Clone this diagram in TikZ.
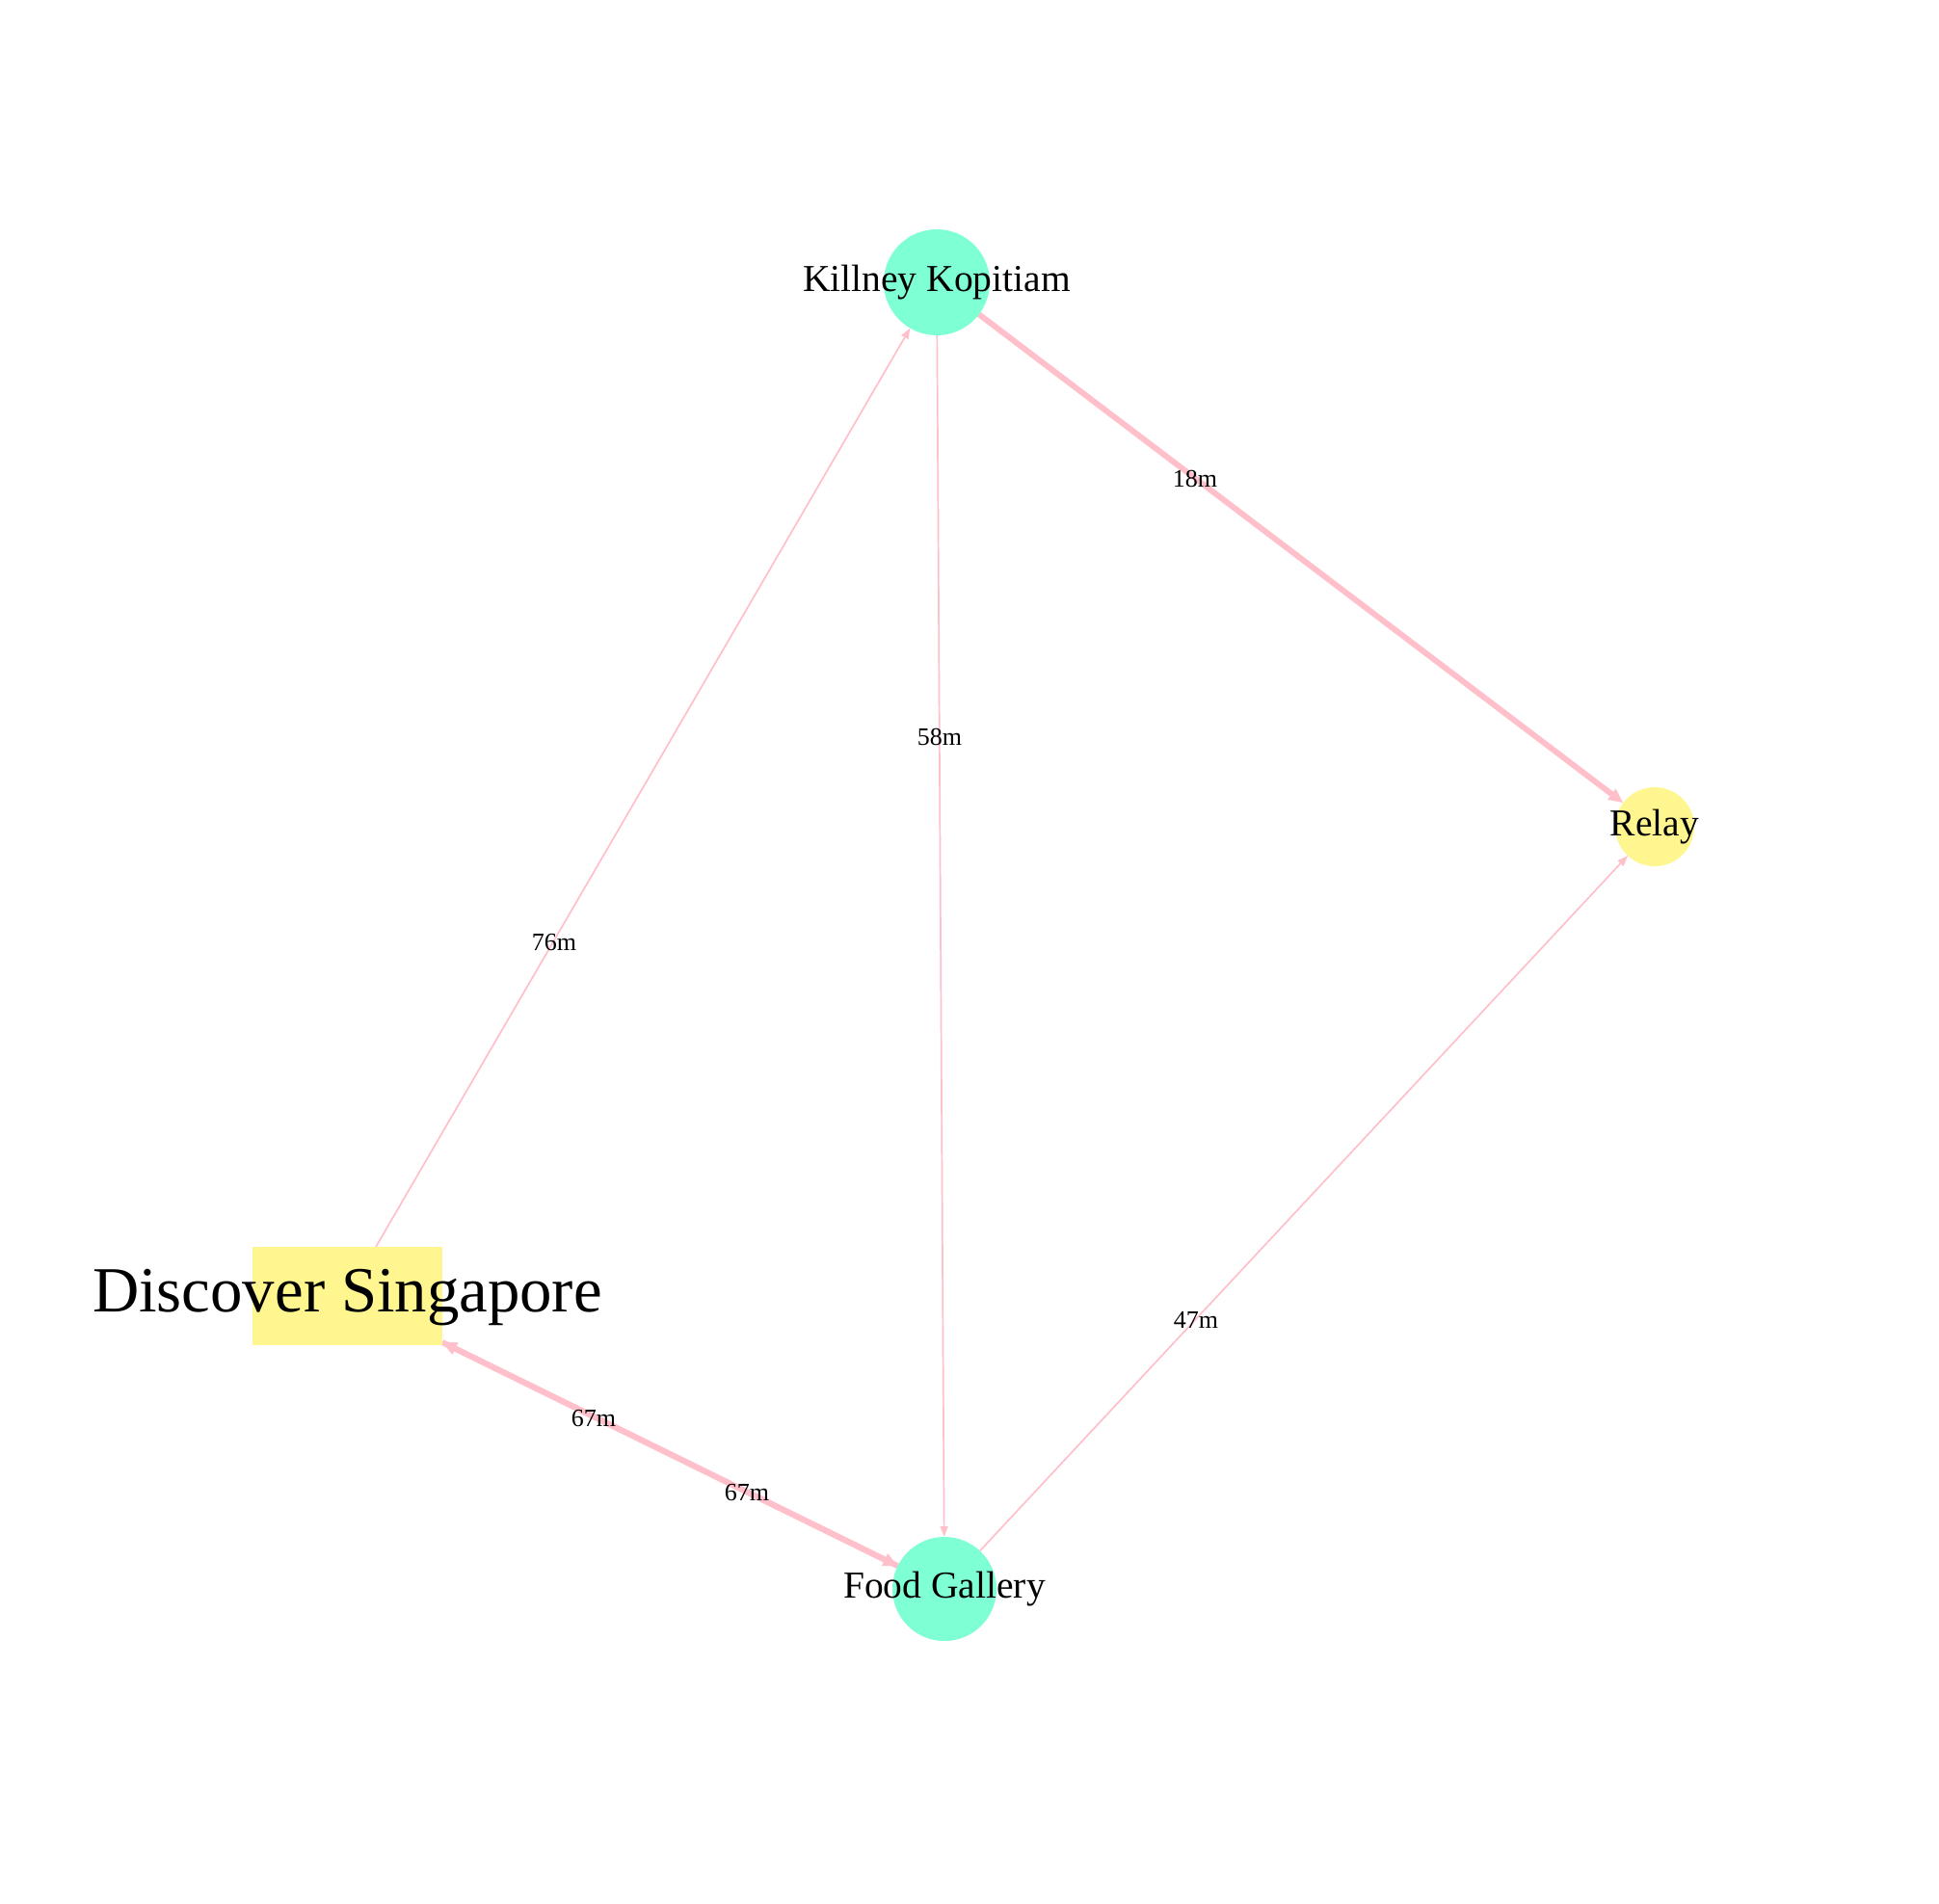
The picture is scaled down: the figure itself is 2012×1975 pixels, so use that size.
\documentclass[tikz,border=0pt]{standalone}
\usepackage{fontspec}
\setmainfont{Liberation Serif}
\usetikzlibrary{arrows.meta}
\pgfdeclarelayer{bg}
\pgfsetlayers{bg,main}
\definecolor{edgepink}{RGB}{255,192,203}
\definecolor{aquanode}{RGB}{127,255,212}
\definecolor{yellownode}{RGB}{255,246,143}
\begin{document}
\begin{tikzpicture}[x=1pt,y=-1pt,
  roundplace/.style={circle, fill=#1, draw=none, inner sep=0pt, outer sep=0pt},
  boxplace/.style={rectangle, fill=yellownode, draw=none, inner sep=0pt, outer sep=0pt, minimum width=197pt, minimum height=102pt},
  namelbl/.style={font=\fontsize{39.5}{47}\selectfont, text height=27.6pt, text depth=7.9pt, inner sep=0pt},
  biglbl/.style={font=\fontsize{66.8}{80}\selectfont, text height=46.8pt, text depth=13.4pt, inner sep=0pt},
  edgelbl/.style={font=\fontsize{26}{31}\selectfont, inner sep=0pt},
  lightedge/.style={draw=edgepink, line width=1.7pt, -{Triangle[length=11pt,width=8pt]}},
  heavyedge/.style={draw=edgepink, line width=6pt, -{Triangle[length=15pt,width=13pt]}}
]
\useasboundingbox (0,0) rectangle (2012,1975);

\node[roundplace=aquanode, minimum size=110pt, label={[namelbl]center:Killney Kopitiam}] (kk) at (972,293) {};
\node[roundplace=aquanode, minimum size=108pt, label={[namelbl]center:Food Gallery}] (fg) at (980,1649) {};
\node[roundplace=yellownode, minimum size=82pt, label={[namelbl]center:Relay}] (re) at (1717,858) {};
\node[boxplace, label={[biglbl]center:Discover Singapore}] (ds) at (360.5,1345) {};

\begin{pgfonlayer}{bg}
\fill[white] (0,0) rectangle (2012,1975);
\draw[lightedge] (ds) -- (kk);
\draw[lightedge] (kk) -- (fg);
\draw[heavyedge] (kk) -- (re);
\draw[lightedge] (fg) -- (re);
\draw[heavyedge] (ds) -- (fg);
\draw[heavyedge] (fg) -- (ds);
\end{pgfonlayer}

\node[edgelbl] (l76) at (575,978) {76m};
\node[edgelbl] (l58) at (975,765) {58m};
\node[edgelbl] (l18) at (1240,497) {18m};
\node[edgelbl] (l47) at (1241,1370) {47m};
\node[edgelbl] (l67a) at (616,1472) {67m};
\node[edgelbl] (l67b) at (775,1549) {67m};
\end{tikzpicture}
\end{document}
